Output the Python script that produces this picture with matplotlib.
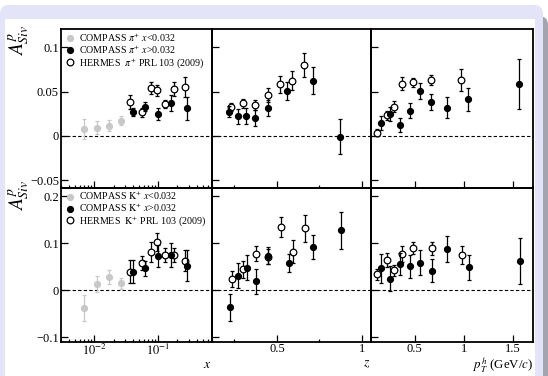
import matplotlib
matplotlib.use('Agg')
import matplotlib.pyplot as plt
import numpy as np
from matplotlib.patches import FancyBboxPatch, Rectangle
from matplotlib.transforms import IdentityTransform
from matplotlib.lines import Line2D
from matplotlib.ticker import FixedLocator, NullLocator, LogLocator

plt.rcParams['font.family'] = 'serif'
plt.rcParams['font.serif'] = ['Liberation Serif', 'DejaVu Serif']
plt.rcParams['mathtext.fontset'] = 'stix'

# ---- pi+ vs x ----
pi_x_low = [0.0069, 0.011, 0.017, 0.026]
pi_x_low_A = [0.0076, 0.0094, 0.0117, 0.017]
pi_x_low_err = [0.011, 0.007, 0.006, 0.005]
pi_x_c = [0.040, 0.063, 0.10, 0.16, 0.28]
pi_x_c_A = [0.0265, 0.033, 0.025, 0.037, 0.031]
pi_x_c_err = [0.0045, 0.005, 0.007, 0.009, 0.013]
pi_x_h = [0.036, 0.056, 0.076, 0.096, 0.13, 0.18, 0.26]
pi_x_h_A = [0.0386, 0.0265, 0.054, 0.0515, 0.036, 0.053, 0.055]
pi_x_h_err = [0.008, 0.005, 0.007, 0.006, 0.005, 0.008, 0.011]

# ---- pi+ vs z ----
pi_z_c = [0.22, 0.27, 0.32, 0.37, 0.45, 0.56, 0.71, 0.87]
pi_z_c_A = [0.0273, 0.022, 0.0224, 0.0205, 0.0315, 0.051, 0.0625, -0.0008]
pi_z_c_err = [0.006, 0.008, 0.009, 0.009, 0.009, 0.010, 0.015, 0.020]
pi_z_h = [0.23, 0.30, 0.37, 0.445, 0.52, 0.59, 0.66]
pi_z_h_A = [0.033, 0.0367, 0.0349, 0.046, 0.058, 0.0625, 0.080]
pi_z_h_err = [0.0045, 0.0047, 0.006, 0.0078, 0.0095, 0.0106, 0.0134]

# ---- pi+ vs pT ----
pi_pt_c = [0.153, 0.25, 0.351, 0.453, 0.554, 0.669, 0.823, 1.045, 1.56]
pi_pt_c_A = [0.0144, 0.0247, 0.0122, 0.0284, 0.0508, 0.0386, 0.0318, 0.0413, 0.0587]
pi_pt_c_err = [0.008, 0.0083, 0.008, 0.0085, 0.009, 0.009, 0.012, 0.013, 0.028]
pi_pt_h = [0.113, 0.214, 0.291, 0.372, 0.487, 0.669, 0.965]
pi_pt_h_A = [0.0037, 0.0235, 0.033, 0.059, 0.0605, 0.063, 0.063]
pi_pt_h_err = [0.004, 0.005, 0.006, 0.007, 0.005, 0.006, 0.012]

# ---- K+ vs x ----
k_x_low = [0.0069, 0.011, 0.017, 0.026]
k_x_low_A = [-0.037, 0.0135, 0.0283, 0.0148]
k_x_low_err = [0.028, 0.016, 0.015, 0.012]
k_x_c = [0.040, 0.063, 0.10, 0.16, 0.28]
k_x_c_A = [0.040, 0.047, 0.073, 0.075, 0.052]
k_x_c_err = [0.025, 0.016, 0.023, 0.026, 0.033]
k_x_h = [0.036, 0.056, 0.076, 0.096, 0.13, 0.18, 0.26]
k_x_h_A = [0.040, 0.058, 0.081, 0.1036, 0.0755, 0.075, 0.0634]
k_x_h_err = [0.024, 0.015, 0.021, 0.019, 0.015, 0.015, 0.023]

# ---- K+ vs z ----
k_z_c = [0.224, 0.273, 0.324, 0.375, 0.447, 0.569, 0.713, 0.876]
k_z_c_A = [-0.036, 0.031, 0.0486, 0.019, 0.0733, 0.058, 0.0924, 0.128]
k_z_c_err = [0.029, 0.027, 0.026, 0.026, 0.018, 0.020, 0.026, 0.039]
k_z_h = [0.236, 0.302, 0.375, 0.445, 0.522, 0.594, 0.663]
k_z_h_A = [0.024, 0.045, 0.0776, 0.072, 0.135, 0.0824, 0.1325]
k_z_h_err = [0.017, 0.018, 0.016, 0.016, 0.022, 0.025, 0.029]

# ---- K+ vs pT ----
k_pt_c = [0.153, 0.25, 0.351, 0.453, 0.554, 0.672, 0.823, 1.053, 1.57]
k_pt_c_A = [0.047, 0.025, 0.056, 0.051, 0.059, 0.042, 0.0875, 0.049, 0.062]
k_pt_c_err = [0.031, 0.026, 0.024, 0.025, 0.026, 0.024, 0.028, 0.026, 0.049]
k_pt_h = [0.113, 0.214, 0.291, 0.372, 0.487, 0.672, 0.975]
k_pt_h_A = [0.034, 0.064, 0.043, 0.077, 0.091, 0.0896, 0.075]
k_pt_h_err = [0.012, 0.015, 0.012, 0.017, 0.013, 0.014, 0.019]

W, H = 548, 376
fig = plt.figure(figsize=(W / 100, H / 100), dpi=100)


def px(x0, y0, x1, y1):
    # pixel box (top-left origin) -> figure fraction rect
    return [x0 / W, 1 - y1 / H, (x1 - x0) / W, (y1 - y0) / H]


# card background (drawn below the axes)
ident = IdentityTransform()
fig.patches.append(FancyBboxPatch((6, -20), 542, H - 8 + 20 - 8, boxstyle='round,pad=0,rounding_size=9',
                                  transform=ident, fc='#a4a4b0', ec='none', zorder=-10))
fig.patches.append(FancyBboxPatch((0, -20), 543, H - 5 + 20, boxstyle='round,pad=0,rounding_size=9',
                                  transform=ident, fc='#e4e4f8', ec='none', zorder=-9))
fig.patches.append(Rectangle((5, -5), 530, H - 19 + 5, transform=ident, fc='white', ec='none', zorder=-8))

gray = '#c8c8c8'
cols = [(61, 212), (212, 371), (371, 533)]
rows = [(29, 187.5), (187.5, 342)]
ylims = [(-0.058, 0.1205), (-0.11, 0.219)]
yticks = [[-0.05, 0, 0.05, 0.1], [-0.1, 0, 0.1, 0.2]]
yticklabels = [['\u22120.05', '0', '0.05', '0.1'], ['\u22120.1', '0', '0.1', '0.2']]

data = [
    [(pi_x_low, pi_x_low_A, pi_x_low_err, pi_x_c, pi_x_c_A, pi_x_c_err, pi_x_h, pi_x_h_A, pi_x_h_err),
     (None, None, None, pi_z_c, pi_z_c_A, pi_z_c_err, pi_z_h, pi_z_h_A, pi_z_h_err),
     (None, None, None, pi_pt_c, pi_pt_c_A, pi_pt_c_err, pi_pt_h, pi_pt_h_A, pi_pt_h_err)],
    [(k_x_low, k_x_low_A, k_x_low_err, k_x_c, k_x_c_A, k_x_c_err, k_x_h, k_x_h_A, k_x_h_err),
     (None, None, None, k_z_c, k_z_c_A, k_z_c_err, k_z_h, k_z_h_A, k_z_h_err),
     (None, None, None, k_pt_c, k_pt_c_A, k_pt_c_err, k_pt_h, k_pt_h_A, k_pt_h_err)],
]
hadron = [r'\pi^{+}', r'\mathrm{K}^{+}']

for r, (y0, y1) in enumerate(rows):
    for c, (x0, x1) in enumerate(cols):
        ax = fig.add_axes(px(x0, y0, x1, y1))
        ax.patch.set_alpha(0)
        lo, lo_A, lo_e, cx, cA, ce, hx, hA, he = data[r][c]
        ax.axhline(0, color='k', lw=0.8, ls=(0, (3, 2)), zorder=1)
        if lo is not None:
            ax.errorbar(lo, lo_A, yerr=lo_e, fmt='o', ms=4.2, color=gray, mec=gray,
                        elinewidth=0.9, capsize=1.3, capthick=0.9, zorder=2)
        ax.errorbar(hx, hA, yerr=he, fmt='o', ms=4.8, mfc='white', mec='k', mew=0.9, color='k',
                    elinewidth=0.9, capsize=1.3, capthick=0.9, zorder=3)
        ax.errorbar(cx, cA, yerr=ce, fmt='o', ms=4.2, color='k',
                    elinewidth=0.9, capsize=1.3, capthick=0.9, zorder=4)

        ax.set_ylim(ylims[r])
        ax.yaxis.set_major_locator(FixedLocator(yticks[r]))
        if c == 0:
            ax.set_yticklabels(yticklabels[r])
        else:
            ax.set_yticklabels([])
        if c == 0:
            ax.set_xscale('log')
            ax.set_xlim(0.003, 0.7)
            ax.xaxis.set_major_locator(FixedLocator([0.01, 0.1]))
            ax.xaxis.set_minor_locator(LogLocator(base=10, subs=np.arange(2, 10), numticks=20))
            xl = [r'$10^{-2}$', r'$10^{-1}$']
        elif c == 1:
            ax.set_xlim(0.118, 1.053)
            ax.xaxis.set_major_locator(FixedLocator([0.5, 1.0]))
            ax.xaxis.set_minor_locator(FixedLocator([0.25, 0.75]))
            xl = ['0.5', '1']
        else:
            ax.set_xlim(0.056, 1.70)
            ax.xaxis.set_major_locator(FixedLocator([0.5, 1.0, 1.5]))
            ax.xaxis.set_minor_locator(NullLocator())
            xl = ['0.5', '1', '1.5']
        if r == 1:
            ax.set_xticklabels(xl)
        else:
            ax.set_xticklabels([])
        ax.tick_params(which='both', direction='in', top=False, right=False,
                       labelsize=9, pad=1.5, width=0.9)
        ax.tick_params(axis='x', pad=1)
        ax.tick_params(which='major', length=5)
        ax.tick_params(which='minor', length=2.5)
        for s in ax.spines.values():
            s.set_linewidth(1.3)

        if c == 0:
            h = hadron[r]
            handles = [Line2D([], [], ls='none', marker='o', ms=4.2, color=gray),
                       Line2D([], [], ls='none', marker='o', ms=4.2, color='k'),
                       Line2D([], [], ls='none', marker='o', ms=4.8, mfc='white', mec='k', mew=0.9)]
            labels = [r'COMPASS $%s$ $x$<0.032' % h,
                      r'COMPASS $%s$ $x$>0.032' % h,
                      r'HERMES  $%s$ PRL 103 (2009)' % h]
            ax.legend(handles, labels, loc='upper left', bbox_to_anchor=(0.02, 1.0),
                      frameon=False, fontsize=7.2, handlelength=0.6, handletextpad=0.6,
                      labelspacing=0.0, borderaxespad=0.15, borderpad=0.1)

# axis labels
fig.text(19 / W, 1 - 25 / H, r'$A^{p}_{Siv}$', rotation=90, ha='center', va='top', fontsize=14)
fig.text(19 / W, 1 - 180 / H, r'$A^{p}_{Siv}$', rotation=90, ha='center', va='top', fontsize=14)
fig.text(207 / W, 1 - 364 / H, r'$x$', ha='center', va='center', fontsize=10)
fig.text(367 / W, 1 - 364 / H, r'$z$', ha='center', va='center', fontsize=10)
fig.text(533 / W, 1 - 365 / H, r'$p_{T}^{h}$ (GeV/$c$)', ha='right', va='center', fontsize=9.3)

fig.savefig('out.png', dpi=100)
